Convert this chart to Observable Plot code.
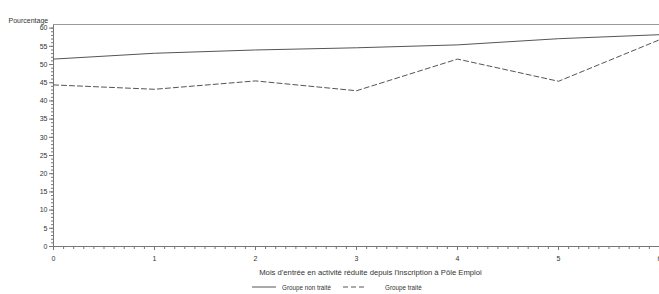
<!DOCTYPE html>
<html>
<head>
<meta charset="utf-8">
<script src="https://cdn.jsdelivr.net/npm/d3@7"></script>
<script src="https://cdn.jsdelivr.net/npm/@observablehq/plot@0.6"></script>
<style>
  body { margin: 0; background: #fff; font-family: "Liberation Sans", Arial, sans-serif; }
  #wrap { width: 659px; }
  #legend { position: relative; width: 659px; height: 14px; font-size: 6.3px; color: #333; }
  #legend .item { position: absolute; top: 3px; display: flex; align-items: center; }
  #legend svg { display: block; }
</style>
</head>
<body>
<div id="wrap"></div>
<script>
const months = [0, 1, 2, 3, 4, 5, 6];
const nonTraite = [51.5, 53.1, 54.0, 54.6, 55.4, 57.1, 58.2];
const traite = [44.4, 43.2, 45.5, 42.8, 51.5, 45.4, 56.8];
const yTicks = d3.range(0, 61, 5);
const xTicks = months;
const seriesNames = ["Groupe non traité", "Groupe traité"];
const xLabel = "Mois d'entrée en activité réduite depuis l'inscription à Pôle Emploi";
const yLabel = "Pourcentage";

const rows = [];
months.forEach((m, i) => {
  rows.push({ mois: m, v: nonTraite[i], g: seriesNames[0] });
  rows.push({ mois: m, v: traite[i], g: seriesNames[1] });
});

const lineColor = "#555";
const axisColor = "#777";
const textColor = "#333";

const chart = Plot.plot({
  width: 659,
  height: 280,
  marginLeft: 53,
  marginRight: 0,
  marginTop: 24,
  marginBottom: 34,
  style: { fontFamily: "Liberation Sans, Arial, sans-serif", fontSize: "7px", color: textColor, background: "#fff" },
  x: { domain: [0, 6] },
  y: { domain: [0, 61] },
  marks: [
    // minor ticks
    Plot.axisX({ ticks: d3.range(0, 60.5, 1).map(d => d / 10), tickSize: 3, tickFormat: () => "", stroke: axisColor, label: null }),
    Plot.axisY({ ticks: d3.range(0, 61, 1), tickSize: 2, tickFormat: () => "", stroke: axisColor, label: null }),
    // major ticks + labels
    Plot.axisX({ ticks: xTicks, tickSize: 4, tickPadding: 6, tickFormat: d3.format("d"), stroke: axisColor, label: null, fill: textColor }),
    Plot.axisY({ ticks: yTicks, tickSize: 4, tickPadding: 2, tickFormat: d3.format("d"), stroke: axisColor, label: null, fill: textColor }),
    Plot.ruleX([0], { stroke: axisColor }),
    Plot.ruleY([0], { stroke: axisColor }),
    Plot.ruleY([61], { stroke: "#999", strokeWidth: 1.2 }),
    Plot.line(rows.filter(d => d.g === seriesNames[0]), { x: "mois", y: "v", stroke: lineColor, strokeWidth: 1 }),
    Plot.line(rows.filter(d => d.g === seriesNames[1]), { x: "mois", y: "v", stroke: lineColor, strokeWidth: 1, strokeDasharray: "5,3" }),
    Plot.text([yLabel], { frameAnchor: "top-left", dx: -45, dy: -6, textAnchor: "start", fill: textColor, fontSize: 7 }),
    Plot.text([xLabel], { frameAnchor: "bottom", dx: 14, dy: 28, fill: textColor, fontSize: 7.7 })
  ]
});
document.getElementById("wrap").appendChild(chart);

// legend below the svg
const legend = document.createElement("div");
legend.id = "legend";
legend.innerHTML = `
  <div class="item" style="left:252px"><svg width="24" height="8"><line x1="0" x2="24" y1="4" y2="4" stroke="${lineColor}" stroke-width="1"/></svg><span style="margin-left:6px">${seriesNames[0]}</span></div>
  <div class="item" style="left:343px"><svg width="24" height="8"><line x1="0" x2="24" y1="4" y2="4" stroke="${lineColor}" stroke-width="1" stroke-dasharray="5,3"/></svg><span style="margin-left:18px">${seriesNames[1]}</span></div>
`;
document.getElementById("wrap").appendChild(legend);
</script>
</body>
</html>
